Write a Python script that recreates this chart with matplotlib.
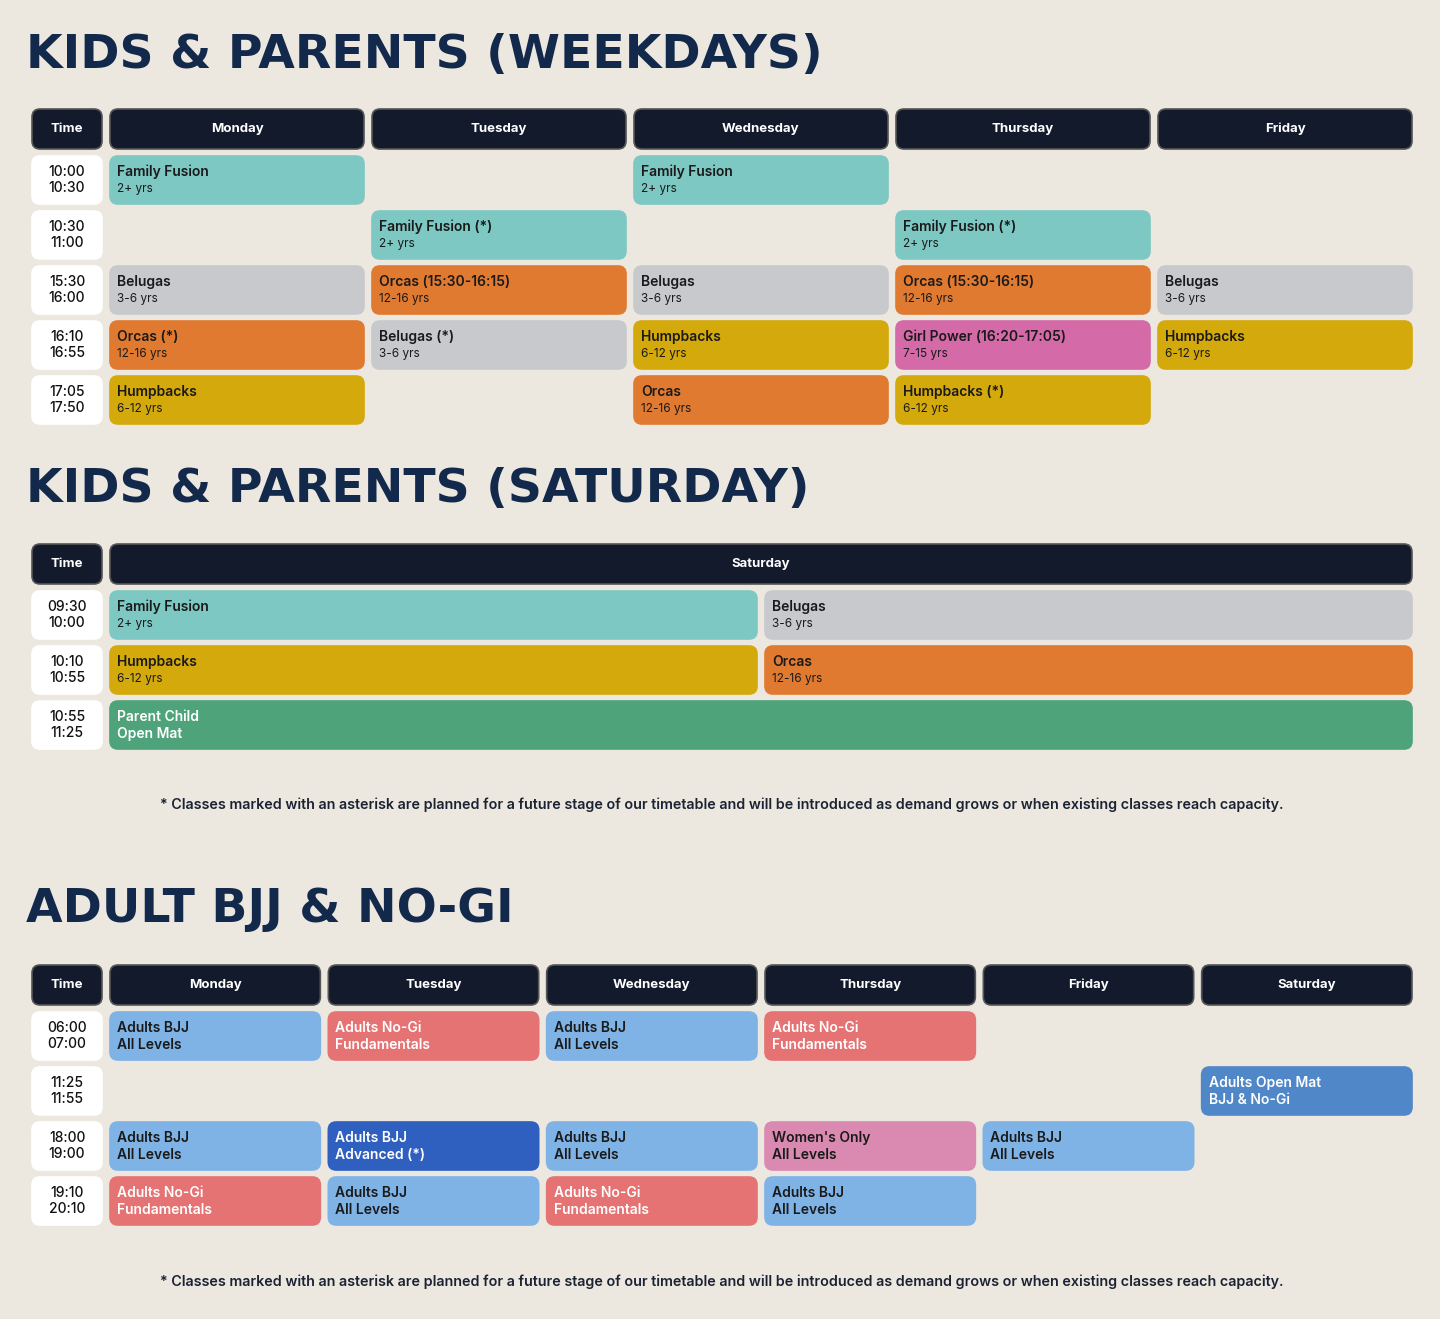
import matplotlib.pyplot as plt
from matplotlib.patches import FancyBboxPatch

plt.rcParams['font.family'] = ['Inter', 'DejaVu Sans']

BG = "#ECE8E0"
NAVY = "#13294B"
HEAD = "#121A2B"
COLORS = {
    "teal": "#7EC8C3", "grey": "#C8C9CD", "orange": "#E07A30", "yellow": "#D4A90C",
    "pink": "#D46AA8", "green": "#4FA37A", "lblue": "#7FB3E6", "red": "#E57373",
    "dblue": "#2F5FBF", "mblue": "#4F87C8", "wpink": "#DA8AB0",
}
WHITE_TEXT = {"green", "red", "dblue", "mblue"}

# ---- data ----
weekday_days = ["Monday", "Tuesday", "Wednesday", "Thursday", "Friday"]
weekday_times = ["10:00\n10:30", "10:30\n11:00", "15:30\n16:00", "16:10\n16:55", "17:05\n17:50"]
weekday_classes = [
    (0, 0, "Family Fusion", "2+ yrs", "teal"),
    (0, 2, "Family Fusion", "2+ yrs", "teal"),
    (1, 1, "Family Fusion (*)", "2+ yrs", "teal"),
    (1, 3, "Family Fusion (*)", "2+ yrs", "teal"),
    (2, 0, "Belugas", "3-6 yrs", "grey"),
    (2, 1, "Orcas (15:30-16:15)", "12-16 yrs", "orange"),
    (2, 2, "Belugas", "3-6 yrs", "grey"),
    (2, 3, "Orcas (15:30-16:15)", "12-16 yrs", "orange"),
    (2, 4, "Belugas", "3-6 yrs", "grey"),
    (3, 0, "Orcas (*)", "12-16 yrs", "orange"),
    (3, 1, "Belugas (*)", "3-6 yrs", "grey"),
    (3, 2, "Humpbacks", "6-12 yrs", "yellow"),
    (3, 3, "Girl Power (16:20-17:05)", "7-15 yrs", "pink"),
    (3, 4, "Humpbacks", "6-12 yrs", "yellow"),
    (4, 0, "Humpbacks", "6-12 yrs", "yellow"),
    (4, 2, "Orcas", "12-16 yrs", "orange"),
    (4, 3, "Humpbacks (*)", "6-12 yrs", "yellow"),
]

saturday_times = ["09:30\n10:00", "10:10\n10:55", "10:55\n11:25"]
# (row, start half, span halves, name, sub, colour)
saturday_classes = [
    (0, 0, 1, "Family Fusion", "2+ yrs", "teal"),
    (0, 1, 1, "Belugas", "3-6 yrs", "grey"),
    (1, 0, 1, "Humpbacks", "6-12 yrs", "yellow"),
    (1, 1, 1, "Orcas", "12-16 yrs", "orange"),
    (2, 0, 2, "Parent Child", "Open Mat", "green"),
]

adult_days = ["Monday", "Tuesday", "Wednesday", "Thursday", "Friday", "Saturday"]
adult_times = ["06:00\n07:00", "11:25\n11:55", "18:00\n19:00", "19:10\n20:10"]
adult_classes = [
    (0, 0, "Adults BJJ", "All Levels", "lblue"),
    (0, 1, "Adults No-Gi", "Fundamentals", "red"),
    (0, 2, "Adults BJJ", "All Levels", "lblue"),
    (0, 3, "Adults No-Gi", "Fundamentals", "red"),
    (1, 5, "Adults Open Mat", "BJJ & No-Gi", "mblue"),
    (2, 0, "Adults BJJ", "All Levels", "lblue"),
    (2, 1, "Adults BJJ", "Advanced (*)", "dblue"),
    (2, 2, "Adults BJJ", "All Levels", "lblue"),
    (2, 3, "Women's Only", "All Levels", "wpink"),
    (2, 4, "Adults BJJ", "All Levels", "lblue"),
    (3, 0, "Adults No-Gi", "Fundamentals", "red"),
    (3, 1, "Adults BJJ", "All Levels", "lblue"),
    (3, 2, "Adults No-Gi", "Fundamentals", "red"),
    (3, 3, "Adults BJJ", "All Levels", "lblue"),
]

footnote = ("* Classes marked with an asterisk are planned for a future stage of our timetable "
            "and will be introduced as demand grows or when existing classes reach capacity.")

fig = plt.figure(figsize=(14.4, 13.19), dpi=100, facecolor=BG)
ax = fig.add_axes([0, 0, 1, 1])
ax.set_xlim(0, 1440)
ax.set_ylim(1319, 0)
ax.axis("off")


def box(x0, y0, x1, y1, color, edge=None):
    ax.add_patch(FancyBboxPatch((x0, y0), x1 - x0, y1 - y0,
                                boxstyle="round,pad=0,rounding_size=8",
                                fc=color, ec=edge or color, lw=1.2))


def title(y, text):
    ax.text(26, y, text, fontsize=34, fontweight="black", color=NAVY,
            family=["DejaVu Sans"], va="center", ha="left")


def header(y0, cols, names):
    box(32, y0, 102, y0 + 40, HEAD, "#555")
    ax.text(67, y0 + 20, "Time", color="white", fontsize=9.5, fontweight="bold", ha="center", va="center")
    for (x0, x1), n in zip(cols, names):
        box(x0, y0, x1, y0 + 40, HEAD, "#555")
        ax.text((x0 + x1) / 2, y0 + 20, n, color="white", fontsize=9.5, fontweight="bold",
                ha="center", va="center")


def time_cell(y0, t):
    box(32, y0, 102, y0 + 48, "white")
    a, b = t.split("\n")
    ax.text(67, y0 + 16, a, fontsize=10, ha="center", va="center", color="#111", fontweight="medium")
    ax.text(67, y0 + 32, b, fontsize=10, ha="center", va="center", color="#111", fontweight="medium")


def class_cell(x0, x1, y0, name, sub, kind, adult=False):
    box(x0, y0, x1, y0 + 48, COLORS[kind])
    white = kind in WHITE_TEXT
    c = "white" if white else "#1a1a1a"
    ax.text(x0 + 7, y0 + 16, name, fontsize=10, color=c, va="center", ha="left",
            fontweight="semibold")
    ax.text(x0 + 7, y0 + 33, sub, fontsize=10 if (adult or kind == "green") else 8.5,
            color=c, va="center", ha="left",
            fontweight=("semibold" if (adult or white) else "normal"))


def columns(n, x0=110, x1=1412, gap=8):
    w = (x1 - x0 - gap * (n - 1)) / n
    return [(x0 + i * (w + gap), x0 + i * (w + gap) + w) for i in range(n)]


# ---- section 1 ----
title(55, "KIDS & PARENTS (WEEKDAYS)")
cols = columns(len(weekday_days))
header(109, cols, weekday_days)
for i, t in enumerate(weekday_times):
    time_cell(156 + 55 * i, t)
for r, c, n, s, k in weekday_classes:
    class_cell(cols[c][0], cols[c][1], 156 + 55 * r, n, s, k)

# ---- section 2 ----
title(490, "KIDS & PARENTS (SATURDAY)")
header(544, [(110, 1412)], ["Saturday"])
halves = columns(2)
for i, t in enumerate(saturday_times):
    time_cell(591 + 55 * i, t)
for r, h, span, n, s, k in saturday_classes:
    class_cell(halves[h][0], halves[h + span - 1][1], 591 + 55 * r, n, s, k)
ax.text(722, 805, footnote, fontsize=10.3, fontweight="semibold", color="#1a2233", ha="center", va="center")

# ---- section 3 ----
title(910, "ADULT BJJ & NO-GI")
cols = columns(len(adult_days))
header(965, cols, adult_days)
for i, t in enumerate(adult_times):
    time_cell(1012 + 55 * i, t)
for r, c, n, s, k in adult_classes:
    class_cell(cols[c][0], cols[c][1], 1012 + 55 * r, n, s, k, adult=True)
ax.text(722, 1282, footnote, fontsize=10.3, fontweight="semibold", color="#1a2233", ha="center", va="center")

fig.savefig("out.png", dpi=100, facecolor=BG)
